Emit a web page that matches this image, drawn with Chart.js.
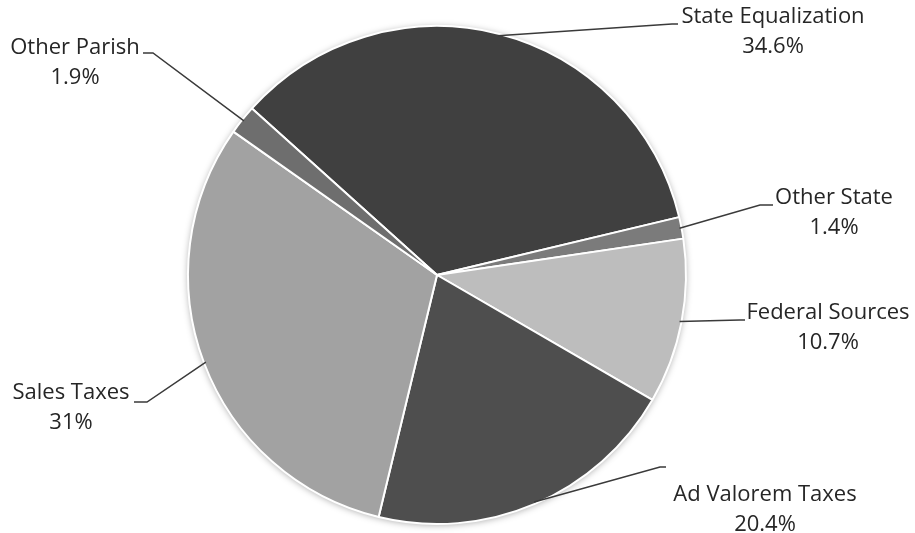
<!DOCTYPE html>
<html>
<head>
<meta charset="utf-8">
<script src="https://cdn.jsdelivr.net/npm/chart.js@4/dist/chart.umd.min.js"></script>
<style>
  html, body { margin: 0; padding: 0; background: #ffffff; }
  #wrap { width: 915px; height: 533px; position: relative; }
</style>
</head>
<body>
<div id="wrap"><canvas id="c" width="915" height="533"></canvas></div>
<script>
// ---- data ----
const categories = ["State Equalization", "Other State", "Federal Sources", "Ad Valorem Taxes", "Sales Taxes", "Other Parish"];
const shareValues = [34.6, 1.4, 10.7, 20.4, 31, 1.9];
const shareLabels = ["34.6%", "1.4%", "10.7%", "20.4%", "31%", "1.9%"];

// ---- styling ----
const sliceColors = ["#404040", "#7b7b7b", "#bdbdbd", "#4e4e4e", "#a2a2a2", "#6e6e6e"];
// label layout: text centre (tx, ty of first line), elbow point (ex, ey), end of horizontal tail (hx)
const labelLayout = [
  { tx: 773, ty: 17,  ex: 672, ey: 24,  hx: 678 },
  { tx: 834, ty: 198, ex: 760, ey: 205, hx: 773 },
  { tx: 828, ty: 313, ex: 740, ey: 320, hx: 745 },
  { tx: 765, ty: 495, ex: 660, ey: 467, hx: 666 },
  { tx: 71,  ty: 393, ex: 147, ey: 402, hx: 134 },
  { tx: 75,  ty: 48,  ex: 153, ey: 53,  hx: 143 }
];

const shadowPlugin = {
  id: 'shadow',
  beforeDatasetsDraw(chart) {
    const arc = chart.getDatasetMeta(0).data[0];
    if (!arc) return;
    const ctx = chart.ctx;
    ctx.save();
    ctx.beginPath();
    ctx.arc(arc.x, arc.y, arc.outerRadius, 0, Math.PI * 2);
    ctx.shadowColor = 'rgba(0,0,0,0.35)';
    ctx.shadowBlur = 7;
    ctx.shadowOffsetY = 1;
    ctx.fillStyle = '#ffffff';
    ctx.fill();
    ctx.restore();
  }
};

const labelPlugin = {
  id: 'leaderLabels',
  afterDatasetsDraw(chart) {
    const ctx = chart.ctx;
    const meta = chart.getDatasetMeta(0);
    ctx.save();
    meta.data.forEach((el, i) => {
      const p = el.getProps(['x', 'y', 'startAngle', 'endAngle', 'outerRadius'], true);
      const mid = (p.startAngle + p.endAngle) / 2;
      const r = p.outerRadius - 2;
      const sx = p.x + Math.cos(mid) * r;
      const sy = p.y + Math.sin(mid) * r;
      const L = labelLayout[i];
      ctx.strokeStyle = '#3a3a3a';
      ctx.lineWidth = 1.5;
      ctx.beginPath();
      ctx.moveTo(sx, sy);
      ctx.lineTo(L.ex, L.ey);
      ctx.lineTo(L.hx, L.ey);
      ctx.stroke();
      ctx.fillStyle = '#262626';
      ctx.font = '22px "Open Sans", "Liberation Sans", sans-serif';
      ctx.textAlign = 'center';
      ctx.textBaseline = 'middle';
      ctx.fillText(categories[i], L.tx, L.ty);
      ctx.fillText(shareLabels[i], L.tx, L.ty + 30);
    });
    ctx.restore();
  }
};

new Chart(document.getElementById('c'), {
  type: 'pie',
  data: {
    labels: categories,
    datasets: [{
      data: shareValues,
      backgroundColor: sliceColors,
      borderColor: '#ffffff',
      borderWidth: 2
    }]
  },
  options: {
    responsive: false,
    animation: false,
    rotation: -48,
    layout: { padding: { left: 187, right: 228, top: 25, bottom: 8 } },
    plugins: {
      legend: { display: false },
      tooltip: { enabled: false }
    }
  },
  plugins: [shadowPlugin, labelPlugin]
});
</script>
</body>
</html>
